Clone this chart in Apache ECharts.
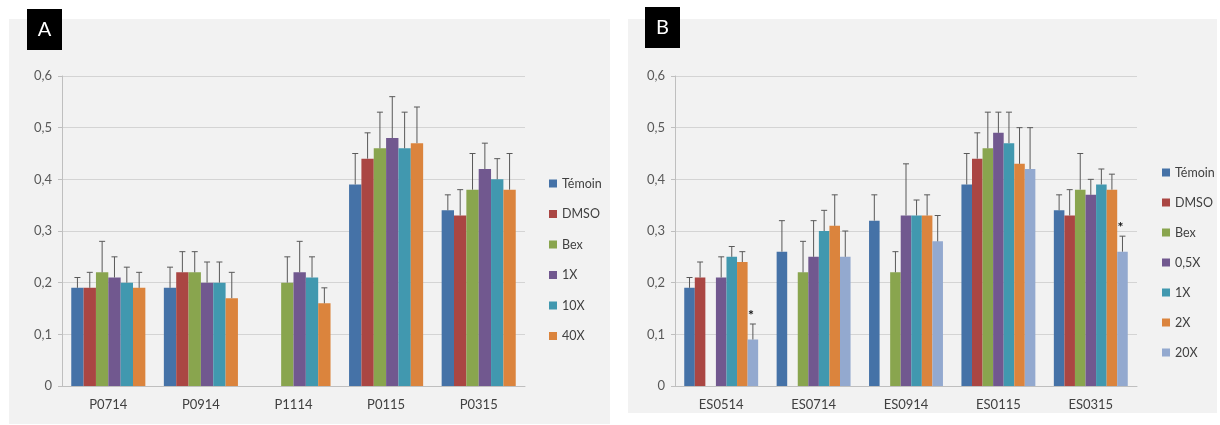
<!DOCTYPE html>
<html>
<head>
<meta charset="utf-8">
<script src="https://cdn.jsdelivr.net/npm/echarts@6/dist/echarts.min.js"></script>
<style>
  html, body { margin: 0; padding: 0; background: #fff; }
  #main { width: 1220px; height: 425px; }
</style>
</head>
<body>
<div id="main"></div>
<script>
// données
var catsA = ['P0714', 'P0914', 'P1114', 'P0115', 'P0315'];
var namesA = ['Témoin', 'DMSO', 'Bex', '1X', '10X', '40X'];
var temoinA = [0.19, 0.19, null, 0.39, 0.34];
var dmsoA   = [0.19, 0.22, null, 0.44, 0.33];
var bexA    = [0.22, 0.22, 0.20, 0.46, 0.38];
var x1A     = [0.21, 0.20, 0.22, 0.48, 0.42];
var x10A    = [0.20, 0.20, 0.21, 0.46, 0.40];
var x40A    = [0.19, 0.17, 0.16, 0.47, 0.38];
// haut des barres d'erreur
var errTemoinA = [0.21, 0.23, null, 0.45, 0.37];
var errDmsoA   = [0.22, 0.26, null, 0.49, 0.38];
var errBexA    = [0.28, 0.26, 0.25, 0.53, 0.45];
var err1A      = [0.25, 0.24, 0.28, 0.56, 0.47];
var err10A     = [0.23, 0.24, 0.25, 0.53, 0.44];
var err40A     = [0.22, 0.22, 0.19, 0.54, 0.45];

var catsB = ['ES0514', 'ES0714', 'ES0914', 'ES0115', 'ES0315'];
var namesB = ['Témoin', 'DMSO', 'Bex', '0,5X', '1X', '2X', '20X'];
var temoinB = [0.19, 0.26, 0.32, 0.39, 0.34];
var dmsoB   = [0.21, null, null, 0.44, 0.33];
var bexB    = [null, 0.22, 0.22, 0.46, 0.38];
var x05B    = [0.21, 0.25, 0.33, 0.49, 0.37];
var x1B     = [0.25, 0.30, 0.33, 0.47, 0.39];
var x2B     = [0.24, 0.31, 0.33, 0.43, 0.38];
var x20B    = [0.09, 0.25, 0.28, 0.42, 0.26];
var errTemoinB = [0.21, 0.32, 0.37, 0.45, 0.37];
var errDmsoB   = [0.24, null, null, 0.49, 0.38];
var errBexB    = [null, 0.28, 0.26, 0.53, 0.45];
var err05B     = [0.25, 0.32, 0.43, 0.53, 0.40];
var err1B      = [0.27, 0.34, 0.36, 0.53, 0.42];
var err2B      = [0.26, 0.37, 0.37, 0.50, 0.41];
var err20B     = [0.12, 0.30, 0.33, 0.50, 0.29];
var star20B    = [1, 0, 0, 0, 1];

var yTicks = [0, 0.1, 0.2, 0.3, 0.4, 0.5, 0.6];

var colors = ['#4572A7', '#AA4643', '#89A54E', '#71588F', '#4198AF', '#DB843D', '#93A9CF'];
var colorsA = colors.slice(0, 6);
var FONT = 'Lato';

var valsA = [temoinA, dmsoA, bexA, x1A, x10A, x40A];
var errsA = [errTemoinA, errDmsoA, errBexA, err1A, err10A, err40A];
var valsB = [temoinB, dmsoB, bexB, x05B, x1B, x2B, x20B];
var errsB = [errTemoinB, errDmsoB, errBexB, err05B, err1B, err2B, err20B];

var myChart = echarts.init(document.getElementById('main'));

function errRows(vals, errs, stars) {
  var rows = [];
  for (var s = 0; s < vals.length; s++) {
    for (var c = 0; c < vals[s].length; c++) {
      if (vals[s][c] == null) continue;
      var st = (stars && s === vals.length - 1) ? stars[c] : 0;
      rows.push([c, s, vals[s][c], errs[s][c], st]);
    }
  }
  return rows;
}

function makeRender(nSeries) {
  return function (params, api) {
    var c = api.value(0), s = api.value(1), top = api.value(3);
    var band = api.size([1, 0])[0];
    var group = band * 0.8;
    var bw = group / nSeries;
    var base = api.coord([c, api.value(2)]);
    var x = base[0] - group / 2 + bw * (s + 0.5);
    var yTop = api.coord([c, top])[1];
    var sty = { stroke: '#595959', lineWidth: 1 };
    var kids = [
      { type: 'line', shape: { x1: x, y1: base[1], x2: x, y2: yTop }, style: sty },
      { type: 'line', shape: { x1: x - 3, y1: yTop, x2: x + 3, y2: yTop }, style: sty }
    ];
    if (api.value(4)) {
      kids.push({ type: 'text', style: { text: '*', x: x - 2, y: yTop - 2, fill: '#111', font: 'bold 14px ' + FONT, align: 'center', verticalAlign: 'bottom' } });
    }
    return { type: 'group', children: kids };
  };
}

function yAxisCfg(idx) {
  return {
    type: 'value', gridIndex: idx, min: 0, max: 0.6, interval: 0.1,
    axisLine: { show: true, lineStyle: { color: '#bfbfbf' } },
    axisTick: { show: true, length: 4, lineStyle: { color: '#bfbfbf' } },
    splitLine: { lineStyle: { color: '#d4d4d4' } },
    axisLabel: {
      color: '#595959', fontSize: 13, fontFamily: FONT, margin: 10,
      formatter: function (v) { return yTicks.indexOf(Math.round(v * 10) / 10) >= 0 ? String(Math.round(v * 10) / 10).replace('.', ',') : ''; }
    }
  };
}

function xAxisCfg(idx, cats) {
  return {
    type: 'category', gridIndex: idx, data: cats,
    axisLine: { lineStyle: { color: '#bfbfbf' } },
    axisTick: { length: 4, lineStyle: { color: '#bfbfbf' } },
    axisLabel: { color: '#404040', fontSize: 13, fontFamily: FONT, margin: 12 }
  };
}

var series = [];
namesA.forEach(function (n, i) {
  series.push({ name: n, type: 'bar', xAxisIndex: 0, yAxisIndex: 0, data: valsA[i],
    barGap: 0, barCategoryGap: '20%', itemStyle: { color: colorsA[i] } });
});
namesB.forEach(function (n, i) {
  series.push({ name: n, type: 'bar', xAxisIndex: 1, yAxisIndex: 1, data: valsB[i],
    barGap: 0, barCategoryGap: '20%', itemStyle: { color: colors[i] } });
});
series.push({ type: 'custom', xAxisIndex: 0, yAxisIndex: 0, renderItem: makeRender(6),
  data: errRows(valsA, errsA, null), z: 5, silent: true });
series.push({ type: 'custom', xAxisIndex: 1, yAxisIndex: 1, renderItem: makeRender(7),
  data: errRows(valsB, errsB, star20B), z: 5, silent: true });

var option = {
  animation: false,
  textStyle: { fontFamily: FONT },
  graphic: [
    { type: 'rect', shape: { x: 9, y: 19, width: 601, height: 405 }, style: { fill: '#f2f2f2' }, z: -10 },
    { type: 'rect', shape: { x: 628, y: 19, width: 589, height: 394 }, style: { fill: '#f2f2f2' }, z: -10 },
    { type: 'rect', shape: { x: 27, y: 9, width: 35, height: 41 }, style: { fill: '#000' } },
    { type: 'text', style: { text: 'A', x: 44.5, y: 30, fill: '#fff', font: '20px ' + FONT, align: 'center', verticalAlign: 'middle' } },
    { type: 'rect', shape: { x: 645, y: 7, width: 35, height: 41 }, style: { fill: '#000' } },
    { type: 'text', style: { text: 'B', x: 662.5, y: 28, fill: '#fff', font: '20px ' + FONT, align: 'center', verticalAlign: 'middle' } }
  ],
  legend: [
    { data: namesA.map(function (n, i) { return { name: n, itemStyle: { color: colorsA[i] } }; }),
      orient: 'vertical', left: 544, top: 172, itemWidth: 8, itemHeight: 8, itemGap: 17.5, icon: 'rect',
      textStyle: { color: '#404040', fontSize: 12.5, fontFamily: FONT }, selectedMode: false },
    { data: namesB.map(function (n, i) { return { name: n, itemStyle: { color: colors[i] } }; }),
      orient: 'vertical', left: 1157, top: 161, itemWidth: 8, itemHeight: 8, itemGap: 17, icon: 'rect',
      textStyle: { color: '#404040', fontSize: 12.5, fontFamily: FONT }, selectedMode: false }
  ],
  grid: [
    { left: 62, top: 76, width: 463, height: 310 },
    { left: 675, top: 76, width: 462, height: 310 }
  ],
  xAxis: [xAxisCfg(0, catsA), xAxisCfg(1, catsB)],
  yAxis: [yAxisCfg(0), yAxisCfg(1)],
  series: series
};
myChart.setOption(option);
</script>
</body>
</html>
